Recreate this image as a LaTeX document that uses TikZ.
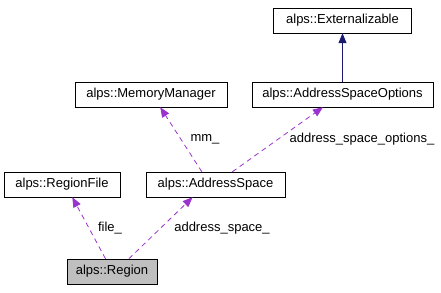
\documentclass[tikz,border=0pt]{standalone}
\usepackage{fontspec}
\setmainfont{Liberation Sans}
\usetikzlibrary{arrows.meta}
\definecolor{darkorchid}{RGB}{154,50,205}
\definecolor{midnightblue}{RGB}{25,25,112}
\definecolor{grey75}{RGB}{191,191,191}

\begin{document}
\begin{tikzpicture}[
        x=1pt, y=1pt,
        cls/.style={rectangle, draw=black, fill=white, minimum height=25pt, inner sep=0pt, font=\fontsize{13}{15}\selectfont},
        usage/.style={draw=darkorchid, thick, dash pattern=on 5pt off 4pt, -{Triangle[length=10pt, width=8pt]}},
        inherit/.style={draw=midnightblue, thick, -{Triangle[length=10pt, width=8pt]}},
        lbl/.style={font=\fontsize{13}{15}\selectfont},
    ]
    \useasboundingbox (0,0) rectangle (441,292);
    % classes
    \node[cls, minimum width=138pt] (EXT) at (342.5,271.5) {alps::Externalizable};
    \node[cls, minimum width=181pt] (ASO) at (342.5,197.5) {alps::AddressSpaceOptions};
    \node[cls, minimum width=152pt] (MM) at (151,197.5) {alps::MemoryManager};
    \node[cls, minimum width=116pt] (RF) at (62,107.5) {alps::RegionFile};
    \node[cls, minimum width=139pt] (AS) at (215.5,107.5) {alps::AddressSpace};
    \node[cls, minimum width=90pt, fill=grey75] (REG) at (112,20.5) {alps::Region};
    % inheritance
    \draw[inherit] (ASO.north) -- (EXT.south);
    % members
    \draw[usage] (REG.117) -- (RF.309);
    \draw[usage] (REG.37) -- (AS.209);
    \draw[usage] (AS.137) -- (MM.306);
    \draw[usage] (AS.37) -- (ASO.213);
    % member names
    \node[lbl] (l-file) at (110,64) {file\_};
    \node[lbl] (l-as) at (222,64) {address\_space\_};
    \node[lbl] (l-mm) at (205,153) {mm\_};
    \node[lbl] (l-aso) at (362,153) {address\_space\_options\_};
\end{tikzpicture}
\end{document}
